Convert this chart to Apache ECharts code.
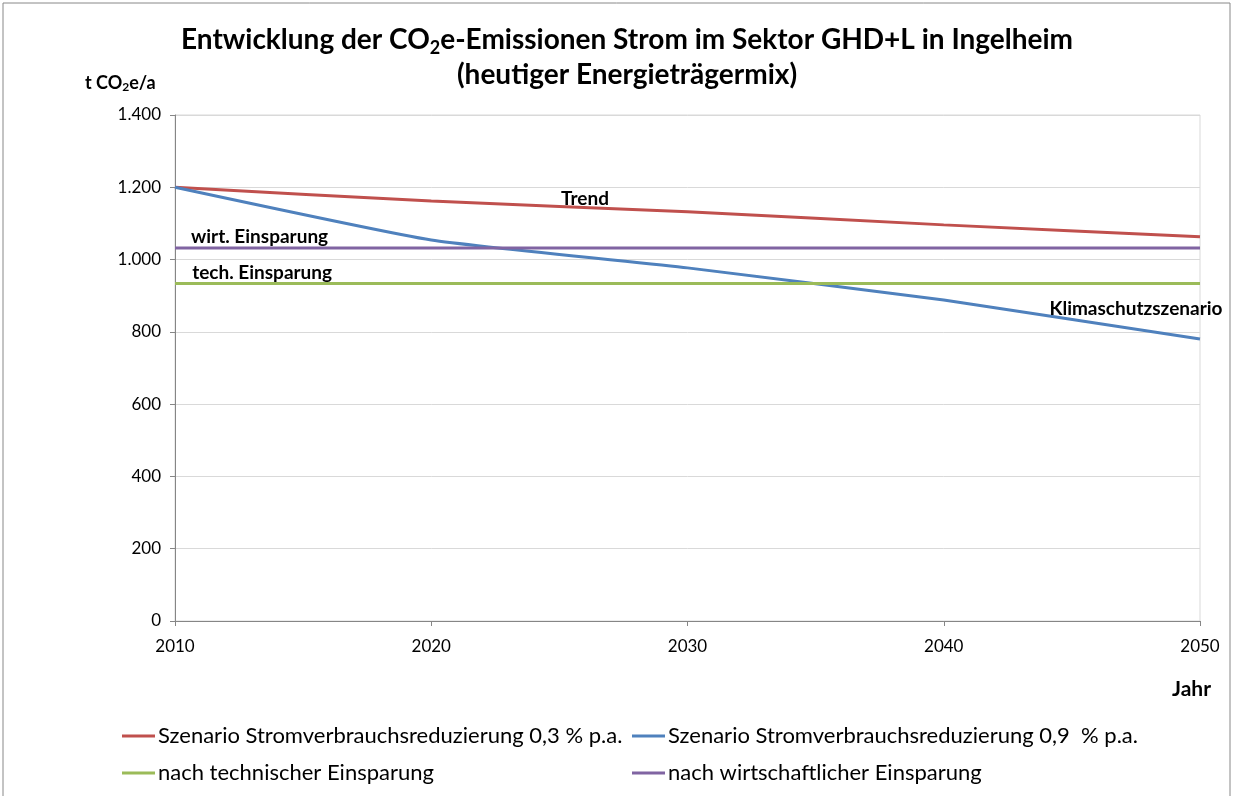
<!DOCTYPE html>
<html>
<head>
<meta charset="utf-8">
<script src="https://cdn.jsdelivr.net/npm/echarts@6/dist/echarts.min.js"></script>
<style>
  html, body { margin: 0; padding: 0; background: #fff; }
  #chart { width: 1234px; height: 796px; }
</style>
</head>
<body>
<div id="chart"></div>
<script>
const years = [2010, 2020, 2030, 2040, 2050];
const trendValues = [1200, 1162, 1132, 1096, 1063];
const klimaValues = [1200, 1054, 977, 888, 780];
const techValues = [934, 934, 934, 934, 934];
const wirtValues = [1032, 1032, 1032, 1032, 1032];
const seriesNames = [
  'Szenario Stromverbrauchsreduzierung 0,3 % p.a.',
  'Szenario Stromverbrauchsreduzierung 0,9  % p.a.',
  'nach technischer Einsparung',
  'nach wirtschaftlicher Einsparung'
];

const font = 'Lato';
const chart = echarts.init(document.getElementById('chart'));

function pairs(vals) {
  return years.map((y, i) => [y, vals[i]]);
}

// Beschriftung direkt an der Linie
function note(text, coord) {
  return {
    symbol: 'circle',
    symbolSize: 1,
    itemStyle: { color: 'rgba(0,0,0,0)' },
    data: [{
      coord: coord,
      label: {
        show: true,
        formatter: text,
        position: 'inside',
        color: '#000',
        fontFamily: font,
        fontWeight: 'bold',
        fontSize: 19
      }
    }]
  };
}

const lineColors = ['#C0504D', '#4F81BD', '#9BBB59', '#8064A2'];

const legendText = { fontFamily: font, fontSize: 22, color: '#000', padding: [0, 0, 0, -2] };

const option = {
  animation: false,
  backgroundColor: '#fff',
  title: {
    text: 'Entwicklung der CO{sub|2}e-Emissionen Strom im Sektor GHD+L in Ingelheim\n(heutiger Energieträgermix)',
    left: 622,
    textAlign: 'center',
    top: 17,
    textStyle: {
      fontFamily: font,
      fontWeight: 'bold',
      fontSize: 28,
      lineHeight: 35,
      color: '#000',
      rich: {
        sub: { fontFamily: font, fontWeight: 'bold', fontSize: 18, verticalAlign: 'bottom', padding: [12, 0, 0, 0] }
      }
    }
  },
  graphic: [
    {
      type: 'rect',
      shape: { x: 3, y: 3, width: 1227, height: 800 },
      style: { fill: 'none', stroke: '#888', lineWidth: 1 }
    },
    {
      type: 'text',
      left: 85,
      top: 74,
      style: {
        text: 't CO{s|2}e/a',
        fontFamily: font,
        fontWeight: 'bold',
        fontSize: 18,
        fill: '#000',
        rich: { s: { fontFamily: font, fontWeight: 'bold', fontSize: 12, padding: [9, 0, 0, 0] } }
      }
    },
    {
      type: 'text',
      left: 1172,
      top: 679,
      style: { text: 'Jahr', fontFamily: font, fontWeight: 'bold', fontSize: 21, fill: '#000' }
    }
  ],
  grid: {
    left: 175,
    right: 34,
    top: 115,
    bottom: 175,
    show: true,
    borderColor: '#d9d9d9',
    borderWidth: 1
  },
  legend: [
    {
      left: 117,
      top: 720,
      orient: 'vertical',
      itemGap: 15,
      itemWidth: 33,
      itemHeight: 3,
      icon: 'rect',
      data: [seriesNames[0], seriesNames[2]],
      textStyle: legendText
    },
    {
      left: 627,
      top: 720,
      orient: 'vertical',
      itemGap: 15,
      itemWidth: 33,
      itemHeight: 3,
      icon: 'rect',
      data: [seriesNames[1], seriesNames[3]],
      textStyle: legendText
    }
  ],
  xAxis: {
    type: 'value',
    min: 2010,
    max: 2050,
    interval: 10,
    axisLine: { show: true, lineStyle: { color: '#868686' } },
    axisTick: { show: true, length: 5, lineStyle: { color: '#868686' } },
    splitLine: { show: false },
    axisLabel: { color: '#000', fontFamily: font, fontSize: 17, margin: 17, formatter: v => String(v) }
  },
  yAxis: {
    type: 'value',
    min: 0,
    max: 1400,
    interval: 200,
    axisLine: { show: true, lineStyle: { color: '#868686' } },
    axisTick: { show: true, length: 5, lineStyle: { color: '#868686' } },
    splitLine: { lineStyle: { color: '#d9d9d9' } },
    axisLabel: {
      color: '#000',
      fontFamily: font,
      fontSize: 17,
      margin: 14,
      formatter: v => v >= 1000 ? Math.floor(v / 1000) + '.' + String(v % 1000).padStart(3, '0') : String(v)
    }
  },
  series: [
    {
      name: seriesNames[0], type: 'line', data: pairs(trendValues), smooth: 0.15,
      showSymbol: false, lineStyle: { width: 3, color: lineColors[0] }, itemStyle: { color: lineColors[0] },
      markPoint: note('Trend', [2026.0, 1168])
    },
    {
      name: seriesNames[1], type: 'line', data: pairs(klimaValues), smooth: 0.15,
      showSymbol: false, lineStyle: { width: 3, color: lineColors[1] }, itemStyle: { color: lineColors[1] },
      markPoint: note('Klimaschutzszenario', [2047.5, 863])
    },
    {
      name: seriesNames[2], type: 'line', data: pairs(techValues),
      showSymbol: false, lineStyle: { width: 3, color: lineColors[2] }, itemStyle: { color: lineColors[2] },
      markPoint: note('tech. Einsparung', [2013.4, 962])
    },
    {
      name: seriesNames[3], type: 'line', data: pairs(wirtValues),
      showSymbol: false, lineStyle: { width: 3, color: lineColors[3] }, itemStyle: { color: lineColors[3] },
      markPoint: note('wirt. Einsparung', [2013.3, 1064])
    }
  ]
};

chart.setOption(option);
</script>
</body>
</html>
